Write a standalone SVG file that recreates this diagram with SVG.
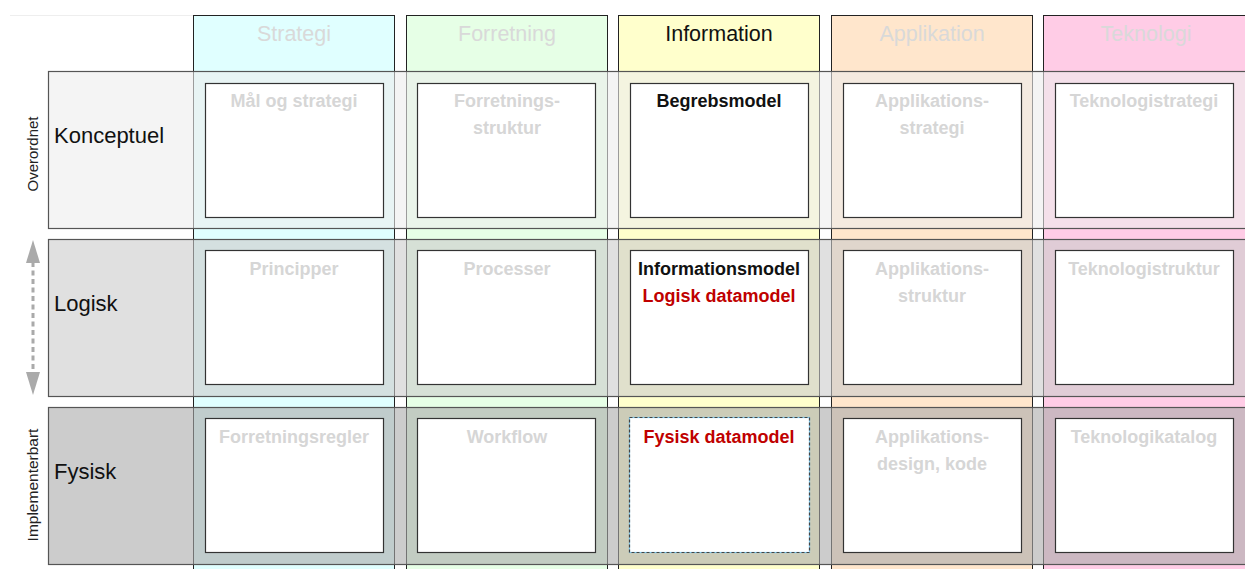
<svg xmlns="http://www.w3.org/2000/svg" width="1245" height="569" viewBox="0 0 1245 569">
<style>
.col{stroke:#222;stroke-width:1}
.row{stroke:#555;stroke-width:1.2;fill-opacity:0.6}
.box{fill:#fff;stroke:#333;stroke-width:1.2}
.hdr{font-family:"Liberation Sans",Arial,sans-serif;font-size:21.5px;fill:#d9d9d9;text-anchor:middle}
.rl{font-family:"Liberation Sans",Arial,sans-serif;font-size:22px;fill:#111}
.side{font-family:"Liberation Sans",Arial,sans-serif;font-size:15px;fill:#222;text-anchor:middle}
.t{font-family:"Liberation Sans",Arial,sans-serif;font-size:18px;font-weight:bold;fill:#d6d6d6;text-anchor:middle}
.blk{fill:#111}
.red{fill:#c00000}
.head{fill:#aaa}
</style>
<rect width="1245" height="569" fill="#fff"/>
<line x1="10" y1="15.5" x2="193" y2="15.5" stroke="#eee" stroke-width="1"/>
<g id="columns">
<g id="col-strategi"><rect class="col" x="193.5" y="15.5" width="201" height="560" fill="#e0ffff"/><text class="hdr" x="294" y="41">Strategi</text></g>
<g id="col-forretning"><rect class="col" x="406.5" y="15.5" width="201" height="560" fill="#e6ffe6"/><text class="hdr" x="507" y="41">Forretning</text></g>
<g id="col-information"><rect class="col" x="618.5" y="15.5" width="201" height="560" fill="#ffffcc"/><text class="hdr" x="719" y="41" style="fill:#111">Information</text></g>
<g id="col-applikation"><rect class="col" x="831.5" y="15.5" width="201" height="560" fill="#ffe6cc"/><text class="hdr" x="932" y="41">Applikation</text></g>
<g id="col-teknologi"><rect class="col" x="1043.5" y="15.5" width="215" height="560" fill="#ffcce6"/><text class="hdr" x="1146" y="41">Teknologi</text></g>
</g>
<g id="rows">
<g id="row-konceptuel"><rect class="row" x="48.5" y="71.5" width="1210" height="157" fill="#ececec"/><text class="rl" x="54" y="143">Konceptuel</text></g>
<g id="row-logisk"><rect class="row" x="48.5" y="239.5" width="1210" height="157" fill="#cbcbcb"/><text class="rl" x="54" y="311">Logisk</text></g>
<g id="row-fysisk"><rect class="row" x="48.5" y="407.5" width="1210" height="157" fill="#aaaaaa"/><text class="rl" x="54" y="479">Fysisk</text></g>
</g>
<text class="side" transform="translate(38,154) rotate(-90)">Overordnet</text>
<text class="side" transform="translate(38,485) rotate(-90)" style="font-size:15.5px">Implementerbart</text>
<g id="connectors">
<line x1="33" y1="262" x2="33" y2="374" stroke="#aaa" stroke-width="3" stroke-dasharray="5,3.5"/>
<path class="head" d="M33,240 L40,263 L26,263 z"/>
<path class="head" d="M33,395 L40,372 L26,372 z"/>
</g>
<g id="cells">
<g id="c11"><rect class="box" x="205.5" y="83.5" width="178" height="134"/><text class="t" x="294" y="107">Mål og strategi</text></g>
<g id="c12"><rect class="box" x="417.5" y="83.5" width="178" height="134"/><text class="t" x="507" y="107">Forretnings-</text><text class="t" x="507" y="134">struktur</text></g>
<g id="c13"><rect class="box" x="630.5" y="83.5" width="178" height="134"/><text class="t blk" x="719" y="107">Begrebsmodel</text></g>
<g id="c14"><rect class="box" x="843.5" y="83.5" width="178" height="134"/><text class="t" x="932" y="107">Applikations-</text><text class="t" x="932" y="134">strategi</text></g>
<g id="c15"><rect class="box" x="1055.5" y="83.5" width="178" height="134"/><text class="t" x="1144" y="107">Teknologistrategi</text></g>
<g id="c21"><rect class="box" x="205.5" y="250.5" width="178" height="134"/><text class="t" x="294" y="275">Principper</text></g>
<g id="c22"><rect class="box" x="417.5" y="250.5" width="178" height="134"/><text class="t" x="507" y="275">Processer</text></g>
<g id="c23"><rect class="box" x="630.5" y="250.5" width="178" height="134"/><text class="t blk" x="719" y="275">Informationsmodel</text><text class="t red" x="719" y="302">Logisk datamodel</text></g>
<g id="c24"><rect class="box" x="843.5" y="250.5" width="178" height="134"/><text class="t" x="932" y="275">Applikations-</text><text class="t" x="932" y="302">struktur</text></g>
<g id="c25"><rect class="box" x="1055.5" y="250.5" width="178" height="134"/><text class="t" x="1144" y="275">Teknologistruktur</text></g>
<g id="c31"><rect class="box" x="205.5" y="418.5" width="178" height="134"/><text class="t" x="294" y="443">Forretningsregler</text></g>
<g id="c32"><rect class="box" x="417.5" y="418.5" width="178" height="134"/><text class="t" x="507" y="443">Workflow</text></g>
<g id="c33"><rect x="629.5" y="417.5" width="180" height="135" fill="#fff" stroke="#7cc8ee" stroke-width="1.2"/><rect x="629.5" y="417.5" width="180" height="135" fill="none" stroke="#444" stroke-width="1.2" stroke-dasharray="3,2"/><text class="t red" x="719" y="443">Fysisk datamodel</text></g>
<g id="c34"><rect class="box" x="843.5" y="418.5" width="178" height="134"/><text class="t" x="932" y="443">Applikations-</text><text class="t" x="932" y="470">design, kode</text></g>
<g id="c35"><rect class="box" x="1055.5" y="418.5" width="178" height="134"/><text class="t" x="1144" y="443">Teknologikatalog</text></g>
</g>
</svg>
